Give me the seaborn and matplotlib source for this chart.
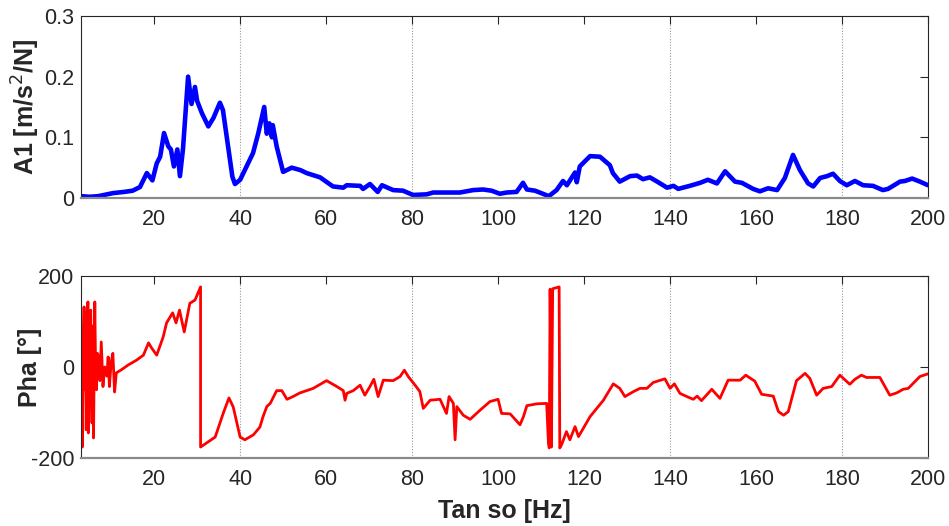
import matplotlib
matplotlib.use("Agg")
import matplotlib.pyplot as plt
import seaborn as sns
import pandas as pd

# Magnitude of accelerance A1: (frequency Hz, value m/s^2/N)
amp_points = [
    (3.0, 0.003), (5.0, 0.002), (7.0, 0.003), (10.4, 0.008), (13.0, 0.010), (15.0, 0.012),
    (16.7, 0.018), (18.3, 0.041), (19.6, 0.029), (20.6, 0.057), (21.4, 0.068), (22.3, 0.107),
    (23.3, 0.085), (23.9, 0.080), (24.6, 0.052), (25.4, 0.080), (26.0, 0.036), (26.7, 0.080),
    (27.9, 0.200), (28.7, 0.155), (29.5, 0.183), (30.0, 0.160), (31.1, 0.140), (32.6, 0.118),
    (33.8, 0.132), (35.3, 0.157), (36.0, 0.145), (37.2, 0.085), (38.2, 0.035), (38.8, 0.023),
    (40.0, 0.030), (43.0, 0.074), (44.2, 0.106), (45.6, 0.150), (46.2, 0.106), (46.8, 0.123),
    (47.4, 0.100), (47.6, 0.120), (48.5, 0.085), (50.0, 0.043), (52.0, 0.050), (54.0, 0.046),
    (55.5, 0.041), (58.6, 0.034), (61.6, 0.019), (64.0, 0.017), (64.8, 0.021), (67.9, 0.020),
    (68.6, 0.015), (70.2, 0.023), (72.0, 0.010), (73.0, 0.021), (75.6, 0.013), (77.9, 0.012),
    (80.2, 0.005), (83.4, 0.006), (84.9, 0.009), (88.0, 0.009), (91.1, 0.009), (94.2, 0.013),
    (96.5, 0.014), (98.5, 0.012), (100.4, 0.007), (102.0, 0.009), (104.3, 0.010), (105.8, 0.025),
    (106.7, 0.014), (108.6, 0.012), (110.4, 0.007), (111.8, 0.003), (113.6, 0.013), (115.1, 0.028),
    (116.0, 0.021), (117.9, 0.042), (118.3, 0.026), (119.0, 0.052), (121.4, 0.069), (123.7, 0.068),
    (126.0, 0.054), (126.7, 0.041), (128.3, 0.027), (130.7, 0.036), (132.3, 0.037), (133.7, 0.031),
    (135.3, 0.034), (137.0, 0.027), (139.3, 0.017), (140.8, 0.020), (141.9, 0.015), (144.6, 0.020),
    (147.0, 0.025), (148.8, 0.030), (150.9, 0.024), (152.8, 0.044), (155.1, 0.027), (156.7, 0.025),
    (159.3, 0.015), (160.9, 0.011), (162.8, 0.016), (164.9, 0.013), (166.7, 0.033), (168.6, 0.071),
    (170.2, 0.046), (172.1, 0.024), (173.3, 0.019), (174.9, 0.033), (176.5, 0.036), (177.9, 0.040),
    (179.5, 0.028), (181.1, 0.021), (183.0, 0.028), (184.9, 0.021), (187.2, 0.020), (189.5, 0.013),
    (190.7, 0.015), (193.5, 0.027), (194.6, 0.028), (196.3, 0.032), (198.1, 0.027), (200.0, 0.021),
]

# Phase: (frequency Hz, angle deg)
pha_points = [
    (3.05, -60), (3.2, 59), (3.3, -176), (3.5, 40), (3.7, 132), (3.8, -50), (4.0, 120),
    (4.2, -138), (4.4, 80), (4.6, 143), (4.7, -145), (5.0, 60), (5.25, 125), (5.45, -60),
    (5.55, -123), (5.7, 90), (5.9, -156), (6.2, 143), (6.4, -20), (6.6, -50), (6.8, 30),
    (7.1, 22), (7.4, -30), (7.7, 55), (8.1, -43), (8.5, 0), (9.0, -20), (9.3, 22), (9.6, -43),
    (10.0, 10), (10.4, 30), (10.8, -55), (11.2, -13), (12.4, -6), (13.9, 4), (15.9, 15),
    (17.5, 26), (18.7, 53), (19.4, 42), (20.6, 26), (22.1, 66), (22.9, 97), (24.3, 119),
    (25.1, 97), (25.9, 125), (27.0, 77), (28.3, 140), (29.5, 147), (30.8, 176), (30.8, -176),
    (32.2, -167), (34.2, -154), (36.1, -101), (37.4, -68), (38.4, -88), (40.0, -154),
    (41.1, -160), (43.1, -149), (44.6, -132), (45.3, -110), (46.2, -87), (47.0, -80),
    (48.5, -52), (49.7, -52), (50.9, -71), (52.3, -65), (53.9, -57), (57.0, -47), (60.1, -30),
    (62.5, -43), (64.0, -52), (64.4, -73), (64.8, -58), (66.3, -52), (67.9, -40), (69.0, -62),
    (70.2, -43), (71.1, -27), (72.1, -65), (73.3, -29), (75.6, -30), (77.2, -21), (78.2, -7),
    (79.1, -21), (80.7, -40), (81.8, -54), (82.6, -91), (84.2, -73), (86.5, -71), (88.0, -102),
    (88.6, -65), (89.6, -80), (90.0, -160), (90.4, -87), (91.9, -106), (93.5, -115),
    (95.8, -95), (98.1, -76), (100.0, -71), (100.8, -102), (102.8, -103), (105.1, -127),
    (105.9, -109), (106.7, -85), (109.0, -81), (111.3, -80), (111.7, -165), (111.9, -178),
    (112.1, 171), (112.4, -176), (112.7, 172), (114.2, 176), (114.35, -178), (114.8, -170),
    (115.9, -142), (116.7, -160), (117.9, -131), (118.7, -153), (121.4, -109), (124.5, -73),
    (126.8, -37), (128.3, -47), (129.5, -65), (131.5, -54), (133.0, -47), (134.6, -47),
    (136.1, -34), (138.8, -26), (140.0, -47), (141.0, -37), (142.3, -58), (143.9, -65),
    (145.4, -71), (146.3, -64), (147.3, -74), (149.7, -49), (151.6, -69), (153.5, -29),
    (156.3, -29), (157.6, -18), (159.7, -31), (161.3, -60), (164.0, -64), (165.2, -98),
    (166.4, -106), (167.5, -98), (169.4, -30), (171.4, -14), (172.5, -25), (174.1, -62),
    (175.6, -47), (177.6, -43), (179.5, -18), (181.8, -38), (183.0, -27), (184.5, -18),
    (185.7, -23), (188.8, -23), (191.1, -62), (192.7, -57), (194.2, -49), (195.4, -47),
    (198.1, -21), (200.0, -15),
]

amp_freq = [p[0] for p in amp_points]
amp_val = [p[1] for p in amp_points]
pha_freq = [p[0] for p in pha_points]
pha_val = [p[1] for p in pha_points]

xticks = [20, 40, 60, 80, 100, 120, 140, 160, 180, 200]
marked_freqs = [40, 80, 140, 180]

amp_df = pd.DataFrame({"f": amp_freq, "A1": amp_val})
pha_df = pd.DataFrame({"f": pha_freq, "Pha": pha_val})

sns.set_theme(style="white")
plt.rcParams["font.family"] = ["Liberation Sans", "DejaVu Sans"]
plt.rcParams["axes.unicode_minus"] = False
text_color = "#262626"

fig = plt.figure(figsize=(9.49, 5.26), dpi=100)
ax1 = fig.add_axes([0.0854, 0.6236, 0.8925, 0.346])
ax2 = fig.add_axes([0.0854, 0.1293, 0.8925, 0.346])

sns.lineplot(data=amp_df, x="f", y="A1", ax=ax1, color="#0000ff", linewidth=3.3,
             estimator=None, sort=False)
sns.lineplot(data=pha_df, x="f", y="Pha", ax=ax2, color="#ff0000", linewidth=2.0,
             estimator=None, sort=False)

for ax in (ax1, ax2):
    ax.set_xlim(3, 200)
    ax.set_xticks(xticks)
    for f in marked_freqs:
        ax.axvline(f, color="#9a9a9a", linestyle=(0, (1, 1.5)), linewidth=0.8, zorder=0)
    ax.tick_params(direction="in", length=6, width=0.8, top=True, right=True,
                   labelsize=15.5, colors=text_color)
    ax.tick_params(axis="x", pad=8)
    ax.tick_params(axis="y", pad=5)
    for side in ("left", "top", "right"):
        ax.spines[side].set_color(text_color)
        ax.spines[side].set_linewidth(0.8)
    ax.spines["bottom"].set_color("#8a8a8a")
    ax.spines["bottom"].set_linewidth(1.6)
    ax.set_xlabel("")

ax1.set_ylim(0, 0.3)
ax1.set_yticks([0, 0.1, 0.2, 0.3])
ax1.set_yticklabels(["0", "0.1", "0.2", "0.3"])
ax1.set_ylabel("A1 [m/s$^2$/N]", fontsize=18, fontweight="bold", color=text_color)
ax1.yaxis.set_label_coords(-0.046, 0.5)

ax2.set_ylim(-200, 200)
ax2.set_yticks([-200, 0, 200])
ax2.set_ylabel("Pha [°]", fontsize=18, fontweight="bold", color=text_color)
ax2.yaxis.set_label_coords(-0.046, 0.5)
ax2.set_xlabel("Tan so [Hz]", fontsize=18, fontweight="bold", color=text_color)
ax2.xaxis.set_label_coords(0.5, -0.225)

fig.savefig("out.png", dpi=100)
